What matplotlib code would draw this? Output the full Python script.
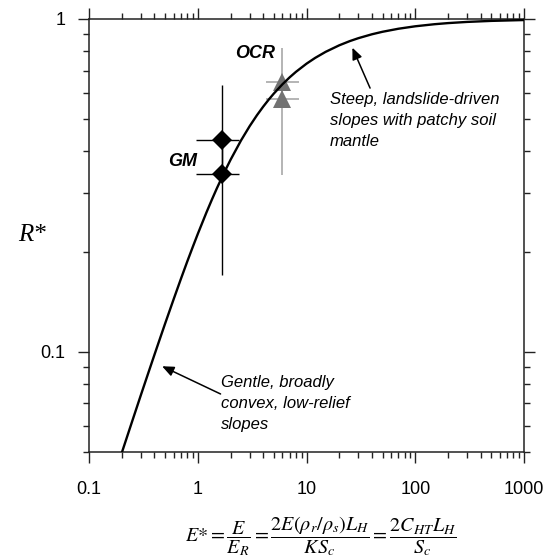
import numpy as np
import matplotlib
matplotlib.use('Agg')
import matplotlib.pyplot as plt
from matplotlib.ticker import LogLocator, FixedLocator, FixedFormatter, NullFormatter

plt.rcParams['font.family'] = ['Liberation Sans', 'DejaVu Sans']
plt.rcParams['mathtext.fontset'] = 'stix'

# Кривая R*(E*), значения
e_star = [0.2, 0.25, 0.3, 0.35, 0.4, 0.45, 0.5, 0.6, 0.7, 0.8, 0.9, 1, 1.2, 1.35,
          1.5, 1.75, 2, 2.5, 3, 3.5, 4, 4.5, 5, 6, 7, 8, 10, 12, 15, 20, 25,
          30, 40, 50, 70, 100, 150, 200, 300, 500, 1000]
r_star = [0.0497, 0.0620, 0.0742, 0.0862, 0.0981, 0.1098, 0.1214, 0.1439, 0.1657,
          0.1867, 0.2067, 0.2260, 0.2620, 0.2869, 0.3102, 0.3457, 0.3774,
          0.4318, 0.4765, 0.5139, 0.5456, 0.5730, 0.5968, 0.6364, 0.6680,
          0.6939, 0.7341, 0.7639, 0.7968, 0.8336, 0.8582, 0.8758, 0.8998,
          0.9154, 0.9348, 0.9508, 0.9645, 0.9720, 0.9800, 0.9870, 0.9928]

# GM (чёрные ромбы)
gm_x = [1.68, 1.68]
gm_y = [0.433, 0.342]
gm_x_lo = [0.96, 0.96]
gm_x_hi = [2.41, 2.41]
gm_y_lo = [0.342, 0.170]
gm_y_hi = [0.633, 0.433]

# OCR (серые треугольники)
ocr_x = [6.0, 6.0]
ocr_y = [0.647, 0.575]
ocr_x_lo = [4.2, 4.2]
ocr_x_hi = [8.5, 8.5]
ocr_y_lo = [0.575, 0.340]
ocr_y_hi = [0.818, 0.647]

x_ticks = [0.1, 1, 10, 100, 1000]
x_labels = ['0.1', '1', '10', '100', '1000']
y_ticks = [0.1, 1]
y_labels = ['0.1', '1']


def errs(v, lo, hi):
    v = np.array(v)
    return [v - np.array(lo), np.array(hi) - v]


fig = plt.figure(figsize=(5.55, 5.57), dpi=100)
ax = fig.add_axes([0.1604, 0.1885, 0.7838, 0.7774])

ax.plot(e_star, r_star, color='black', lw=1.7, zorder=3)

ax.errorbar(ocr_x, ocr_y, xerr=errs(ocr_x, ocr_x_lo, ocr_x_hi),
            yerr=errs(ocr_y, ocr_y_lo, ocr_y_hi), fmt='^', color='#727272',
            ecolor='#a0a0a0', elinewidth=1.1, capsize=0, markersize=13,
            markeredgewidth=0, zorder=2)
ax.errorbar(gm_x, gm_y, xerr=errs(gm_x, gm_x_lo, gm_x_hi),
            yerr=errs(gm_y, gm_y_lo, gm_y_hi), fmt='D', color='black',
            ecolor='black', elinewidth=1.0, capsize=0, markersize=10,
            markeredgewidth=0, zorder=4)

ax.set_xscale('log')
ax.set_yscale('log')
ax.set_xlim(0.1, 1000)
ax.set_ylim(0.05, 1)

ax.xaxis.set_major_locator(FixedLocator(x_ticks))
ax.xaxis.set_major_formatter(FixedFormatter(x_labels))
ax.xaxis.set_minor_locator(LogLocator(base=10, subs=np.arange(2, 10)))
ax.xaxis.set_minor_formatter(NullFormatter())
ax.yaxis.set_major_locator(FixedLocator(y_ticks))
ax.yaxis.set_major_formatter(FixedFormatter(y_labels))
ax.yaxis.set_minor_locator(LogLocator(base=10, subs=np.arange(2, 10)))
ax.yaxis.set_minor_formatter(NullFormatter())

ax.tick_params(which='both', direction='out', top=True, right=True,
               color='#222222', width=1.0)
ax.tick_params(which='major', length=8, labelsize=13)
ax.tick_params(which='minor', length=4.5)
ax.tick_params(axis='x', which='major', pad=13)
ax.tick_params(axis='y', which='major', pad=9)
for s in ax.spines.values():
    s.set_linewidth(1.1)
    s.set_color('#222222')

ax.text(0.73, 0.372, 'GM', fontsize=13, fontweight='bold', style='italic',
        ha='center', va='center')
ax.text(3.36, 0.785, 'OCR', fontsize=13, fontweight='bold', style='italic',
        ha='center', va='center')

arrow = dict(arrowstyle='-|>,head_length=0.7,head_width=0.3', color='black',
             lw=1.1, shrinkA=0, shrinkB=0)

ax.text(16.4, 0.604, 'Steep, landslide-driven\nslopes with patchy soil\nmantle',
        fontsize=12, style='italic', ha='left', va='top', linespacing=1.5)
ax.annotate('', xy=(26.4, 0.82), xytext=(38.4, 0.62), arrowprops=arrow)

ax.text(1.65, 0.0852, 'Gentle, broadly\nconvex, low-relief\nslopes',
        fontsize=12, style='italic', ha='left', va='top', linespacing=1.5)
ax.annotate('', xy=(0.47, 0.0905), xytext=(1.62, 0.0747), arrowprops=arrow)

fig.text(0.058, 0.578, 'R*', fontsize=18, style='italic',
         family=['Liberation Serif', 'DejaVu Serif'], ha='center', va='center')
fig.text(0.578, 0.037,
         r'$E{*}=\dfrac{E}{E_R}=\dfrac{2E\left(\rho_r/\rho_s\right)L_H}{KS_c}=\dfrac{2C_{HT}L_H}{S_c}$',
         fontsize=14.5, ha='center', va='center')

fig.savefig('out.png', dpi=100)
